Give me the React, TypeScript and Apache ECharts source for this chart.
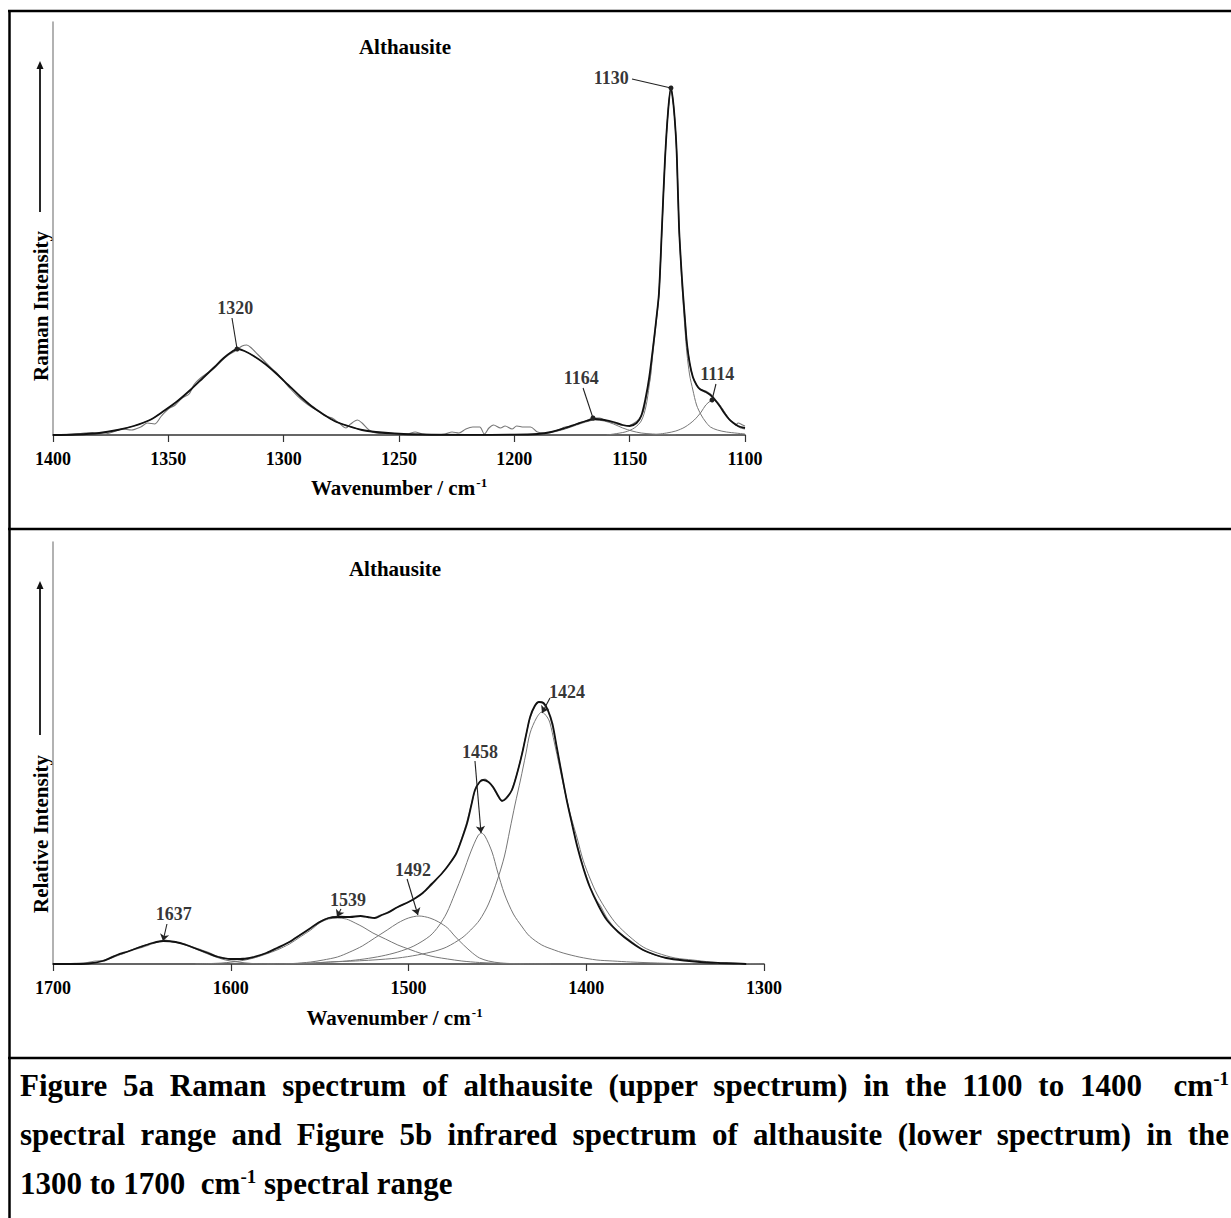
import React, { useEffect, useRef } from "react";
import * as echarts from "echarts";

const SERIF = "'Liberation Serif', 'Times New Roman', serif";

// ---------- Figure 5a : Raman (1100-1400 cm-1) ----------
const ramanRange = { min: 1100, max: 1400, step: 50 };
const ramanTitle = "Althausite";
const ramanYName = "Raman Intensity";

const ramanRaw: number[][] = [
  [1400, 0], [1394, 0.5], [1388, 1.5], [1383, 2.5], [1378, 1], [1374, 3], [1370, 6], [1366, 5], [1362, 8], [1359, 12],
  [1356, 11], [1353, 19], [1350, 26], [1347, 30], [1344, 37], [1341, 41], [1339, 50], [1336, 57], [1333, 62], [1330, 67],
  [1327, 74], [1324, 80], [1321, 84], [1318, 89], [1316, 90], [1314, 87], [1311, 80], [1308, 73], [1305, 66], [1303, 62],
  [1300, 54], [1297, 46], [1294, 39], [1291, 33], [1288, 28], [1285, 24], [1282, 19], [1279, 17], [1276, 12], [1273, 7],
  [1271, 11], [1268, 15], [1266, 12], [1263, 5], [1260, 2], [1255, 1], [1250, 0], [1246, 1], [1243, 3], [1240, 1],
  [1235, 0], [1230, 1], [1227, 3], [1224, 2], [1221, 6], [1218, 8], [1215, 8], [1213, 1], [1211, 7], [1209, 10],
  [1206, 7], [1204, 9], [1201, 6], [1199, 9], [1196, 8], [1193, 8], [1190, 3], [1187, 2], [1184, 3], [1181, 5],
  [1178, 8], [1175, 9], [1172, 12], [1169, 14], [1166, 17], [1163, 17], [1160, 14], [1157, 12], [1154, 10], [1151, 9],
  [1148, 12], [1146, 16], [1144, 24], [1142.5, 42], [1141, 58], [1140, 85], [1138.5, 115], [1137.3, 142], [1136, 208],
  [1134.7, 275], [1133.3, 325], [1132.1, 345], [1131, 330], [1130, 300], [1129.5, 275], [1128.6, 208], [1127.7, 170],
  [1126.9, 142], [1126, 115], [1125.2, 92], [1124, 72], [1122.6, 58], [1121, 50], [1119.6, 46], [1117, 44], [1115, 41],
  [1113, 36], [1111, 30], [1109, 23], [1107, 16], [1105, 12], [1104, 10], [1103, 12], [1101, 10], [1100, 9],
];

const ramanFit: number[][] = [
  [1400, 0], [1390, 0.5], [1380, 2], [1372, 5], [1365, 9], [1358, 15], [1352, 24], [1346, 34], [1340, 46], [1335, 57],
  [1330, 68], [1326, 77], [1322, 84], [1320, 86], [1317, 84], [1313, 79], [1308, 71], [1303, 61], [1298, 50], [1293, 39],
  [1288, 29], [1283, 21], [1278, 14], [1272, 9], [1266, 5], [1260, 3], [1252, 1.5], [1240, 0.5], [1220, 0.2], [1200, 0.3],
  [1190, 1], [1184, 3], [1178, 7], [1173, 11], [1169, 14], [1165, 16], [1161, 15], [1157, 13], [1153, 10], [1150, 9],
  [1147, 12], [1145, 19], [1143, 38], [1141.5, 58], [1140, 85], [1138.5, 115], [1137.3, 142], [1136, 208], [1134.7, 275],
  [1133.3, 325], [1132.1, 347], [1131, 330], [1130, 300], [1129.5, 275], [1128.6, 208], [1127.7, 170], [1126.9, 142],
  [1126, 115], [1125.2, 92], [1124, 72], [1122.6, 58], [1121, 50], [1119.6, 46], [1117, 43], [1115, 40], [1113, 35],
  [1111, 29], [1109, 22], [1107, 16], [1105, 12], [1103, 9], [1100, 7],
];

const ramanBand1320: number[][] = [
  [1400, 0], [1390, 0.5], [1380, 2], [1372, 5], [1365, 9], [1358, 15], [1352, 24], [1346, 34], [1340, 46], [1335, 57],
  [1330, 68], [1326, 77], [1322, 84], [1320, 86], [1317, 84], [1313, 79], [1308, 71], [1303, 61], [1298, 50], [1293, 39],
  [1288, 29], [1283, 21], [1278, 14], [1272, 9], [1266, 5], [1260, 3], [1252, 1.5], [1240, 0.5], [1220, 0],
];
const ramanBand1164: number[][] = [
  [1200, 0], [1190, 0.5], [1184, 2.5], [1178, 6], [1173, 10], [1169, 13], [1165, 15], [1161, 14], [1157, 11], [1153, 7],
  [1149, 4], [1145, 2], [1140, 1], [1130, 0],
];
const ramanBand1130: number[][] = [
  [1160, 0], [1152, 3], [1148, 7], [1145, 14], [1143, 28], [1141.5, 50], [1140, 80], [1138.5, 112], [1137.3, 140],
  [1136, 205], [1134.7, 273], [1133.3, 325], [1132.1, 347], [1131, 330], [1130, 300], [1129.5, 275], [1128.6, 208],
  [1127.7, 165], [1126.9, 135], [1126, 105], [1125.2, 82], [1124, 60], [1122.6, 45], [1121, 30], [1119, 20], [1117, 13],
  [1115, 8], [1112, 5], [1108, 3], [1100, 1],
];
const ramanBand1114: number[][] = [
  [1140, 0], [1134, 2], [1130, 4], [1126, 8], [1122, 15], [1119, 23], [1117, 30], [1115, 34], [1114, 35], [1112, 33],
  [1110, 27], [1108, 20], [1106, 14], [1104, 10], [1102, 7], [1100, 6],
];

// peak annotations: label anchor, leader start, leader end (data coords)
const ramanPeaks = [
  { name: "1130", text: [1158, 357], from: [1149, 356], to: [1132.1, 347] },
  { name: "1320", text: [1321, 127], from: [1322.4, 117], to: [1320.2, 86] },
  { name: "1164", text: [1171, 57], from: [1170.2, 47], to: [1165.9, 17] },
  { name: "1114", text: [1112, 61], from: [1112.6, 51], to: [1114.3, 35] },
];

// ---------- Figure 5b : infrared (1300-1700 cm-1) ----------
const irRange = { min: 1300, max: 1700, step: 100 };
const irTitle = "Althausite";
const irYName = "Relative Intensity";

const irRaw: number[][] = [
  [1700, 0], [1690, 0.5], [1682, 1], [1676, 3], [1671, 4], [1666, 8], [1661, 10], [1656, 14], [1651, 16], [1646, 19],
  [1641, 22], [1637, 24], [1633, 22], [1628, 21], [1623, 18], [1618, 15], [1613, 12], [1608, 8], [1603, 6], [1598, 4],
  [1593, 6], [1588, 6], [1583, 9], [1578, 12], [1573, 16], [1568, 21], [1563, 27], [1558, 32], [1553, 39], [1548, 44],
  [1543, 47], [1538, 48], [1533, 47], [1528, 48], [1524, 47], [1520, 46], [1517, 48], [1514, 50], [1510, 53], [1506, 57],
  [1501, 61], [1497, 65], [1492, 71], [1487, 79], [1482, 89], [1478, 98], [1474, 108], [1471, 121], [1468, 137],
  [1465, 157], [1462.6, 173], [1460, 182], [1457, 185], [1454, 180], [1451, 172], [1448, 164], [1446, 164], [1443, 170],
  [1440, 184], [1437, 204], [1434, 228], [1431.6, 246], [1429, 257], [1426.6, 262], [1424, 260], [1421.6, 253],
  [1419, 238], [1416.6, 216], [1414, 192], [1411, 165], [1408, 140], [1405, 118], [1401.5, 96], [1398, 78], [1396, 70],
  [1394, 63], [1392, 58], [1388, 45], [1382, 32], [1375, 23], [1368, 14], [1361, 9], [1355, 6], [1345, 4], [1336, 2],
  [1325, 1], [1317, 0], [1310, 0],
];

const irFit: number[][] = [
  [1700, 0], [1690, 0], [1680, 0.5], [1672, 3], [1664, 9], [1657, 13], [1651, 17], [1644, 21], [1638, 23], [1631, 22],
  [1625, 19], [1619, 15], [1613, 11], [1607, 7], [1600, 5], [1593, 5], [1587, 7], [1580, 11], [1574, 16], [1567, 22],
  [1561, 29], [1555, 36], [1550, 42], [1545, 46], [1540, 47], [1533, 47], [1527, 48], [1523, 47], [1519, 46], [1515, 49],
  [1512, 51], [1506, 57], [1500, 62], [1496, 66], [1492, 71], [1487, 80], [1481, 91], [1477, 100], [1473, 111],
  [1470, 125], [1467, 141], [1464.5, 160], [1462.6, 174], [1460, 182], [1458, 184], [1455, 182], [1452.4, 177],
  [1449.5, 168], [1447.4, 163], [1445, 166], [1441.8, 174], [1439, 190], [1436, 211], [1433.5, 232], [1431.6, 247],
  [1429, 258], [1426.6, 262], [1424, 261], [1421.6, 254], [1419, 240], [1416.6, 217], [1414, 192], [1411, 164],
  [1408, 140], [1405, 117], [1401.5, 95], [1398, 77], [1393, 58], [1388.4, 44], [1382, 32], [1375, 22], [1368, 14],
  [1361, 9], [1355, 6], [1345, 3.5], [1336, 2], [1325, 1], [1317, 0.5], [1310, 0],
];

const irBand1637: number[][] = [
  [1700, 0], [1685, 0.5], [1675, 2], [1667, 6], [1660, 11], [1653, 16], [1646, 20], [1638, 23], [1631, 22], [1624, 18],
  [1617, 13], [1610, 8], [1603, 4], [1596, 2], [1588, 0.5], [1575, 0],
];
const irBand1539: number[][] = [
  [1620, 0], [1605, 1], [1595, 3], [1587, 6], [1580, 10], [1574, 14], [1567, 20], [1561, 27], [1555, 34], [1550, 41],
  [1545, 45], [1540, 46], [1535, 45], [1530, 41], [1525.6, 37], [1520, 31], [1513, 25], [1506, 19], [1500, 15],
  [1492, 10], [1485, 7], [1478, 5], [1470, 3], [1460, 1.5], [1445, 0.5], [1420, 0],
];
const irBand1492: number[][] = [
  [1580, 0], [1565, 0.5], [1555, 2], [1548, 4], [1540, 7], [1533, 12], [1526, 18], [1519, 26], [1512, 34], [1506, 41],
  [1500, 46], [1494, 48], [1488, 46], [1483, 42], [1478, 36], [1474, 28], [1469, 19], [1464, 11], [1460, 6], [1455, 3],
  [1448, 1], [1435, 0],
];
const irBand1458: number[][] = [
  [1570, 0], [1555, 1], [1544, 2], [1535, 3], [1525, 5], [1515, 8], [1506, 12], [1497, 18], [1488, 28], [1483, 38],
  [1478.5, 51], [1474, 70], [1469.3, 91], [1465, 112], [1461, 128], [1459, 131], [1457, 128], [1453, 112], [1450, 93],
  [1446, 70], [1441, 50], [1436, 37], [1432, 28], [1425, 19], [1418, 14], [1413, 11], [1404, 7], [1394, 4], [1385, 3],
  [1375, 2], [1360, 1], [1340, 0],
];
const irBand1424: number[][] = [
  [1560, 0], [1544, 2], [1530, 3], [1520, 4], [1506, 6], [1495, 9], [1485, 13], [1478.5, 17], [1470, 26], [1465, 34],
  [1460, 44], [1455, 60], [1450, 84], [1446, 108], [1443, 134], [1440, 160], [1437, 184], [1434, 210], [1431.6, 231],
  [1428, 246], [1425, 252], [1422, 247], [1420.4, 241], [1418, 222], [1415, 197], [1412, 172], [1409, 150], [1405, 125],
  [1401.8, 104], [1398, 86], [1394, 70], [1388, 52], [1383, 40], [1376, 28], [1368, 17], [1360, 11], [1350, 6],
  [1340, 4], [1330, 2], [1320, 1], [1310, 0.5], [1300, 0],
];

const irPeaks = [
  { name: "1637", text: [1632, 50], from: [1635.9, 40], to: [1638.1, 23] },
  { name: "1539", text: [1534, 64], from: [1538, 55], to: [1540.2, 47] },
  { name: "1492", text: [1497.5, 94], from: [1500.8, 85], to: [1494.7, 49] },
  { name: "1458", text: [1459.8, 212], from: [1462.6, 203], to: [1459.2, 131] },
  { name: "1424", text: [1410.8, 272], from: [1420.4, 266], to: [1424.9, 251] },
];

const xName = "{a|Wavenumber / cm}{s|-1}";

const captionLines = [
  "Figure 5a Raman spectrum of althausite (upper spectrum) in the 1100 to 1400\u00a0 cm",
  "spectral range and Figure 5b infrared spectrum of althausite (lower spectrum) in the",
  "1300 to 1700\u00a0 cm",
];

function buildOption() {
  const curve = (data: number[][], idx: number, color: string, width: number, z: number) => ({
    type: "line",
    xAxisIndex: idx,
    yAxisIndex: idx,
    data,
    showSymbol: false,
    symbol: "none",
    smooth: 0.3,
    silent: true,
    lineStyle: { color, width },
    z,
  });

  const peakSeries = (peaks: any[], idx: number, endSymbol: string, endSize: number) => ({
    type: "scatter",
    xAxisIndex: idx,
    yAxisIndex: idx,
    symbolSize: 0,
    silent: true,
    z: 10,
    data: peaks.map((p) => ({ name: p.name, value: p.text })),
    label: {
      show: true,
      position: "inside",
      formatter: "{b}",
      fontFamily: SERIF,
      fontWeight: "bold",
      fontSize: 18,
      color: "#000",
    },
    markLine: {
      silent: true,
      symbol: ["none", endSymbol],
      symbolSize: endSize,
      label: { show: false },
      lineStyle: { color: "#222", width: 1.1, type: "solid" },
      data: peaks.map((p) => [{ coord: p.from }, { coord: p.to }]),
    },
  });

  const xAxis = (idx: number, r: { min: number; max: number; step: number }, gap: number, pad: number[]) => ({
    gridIndex: idx,
    type: "value",
    inverse: true,
    min: r.min,
    max: r.max,
    interval: r.step,
    axisLine: { show: true, lineStyle: { color: "#333", width: 1.6 } },
    axisTick: { show: true, length: 7, lineStyle: { color: "#333", width: 1.2 } },
    axisLabel: {
      fontFamily: SERIF,
      fontWeight: "bold",
      fontSize: 18,
      color: "#000",
      margin: 15,
      formatter: (v: number) => String(v),
    },
    splitLine: { show: false },
    name: xName,
    nameLocation: "middle",
    nameGap: gap,
    nameTextStyle: {
      padding: pad,
      rich: {
        a: { fontFamily: SERIF, fontWeight: "bold", fontSize: 21, color: "#000", lineHeight: 24 },
        s: { fontFamily: SERIF, fontWeight: "bold", fontSize: 13, color: "#000", lineHeight: 24, verticalAlign: "top", padding: [0, 0, 8, 1] },
      },
    },
  });

  const yAxis = (idx: number, max: number) => ({
    gridIndex: idx,
    type: "value",
    min: 0,
    max,
    axisLine: { show: true, onZero: false, lineStyle: { color: "#999", width: 1.5 } },
    axisTick: { show: false },
    axisLabel: { show: false },
    splitLine: { show: false },
  });

  const border = (x1: number, y1: number, x2: number, y2: number) => ({
    type: "line",
    shape: { x1, y1, x2, y2 },
    style: { stroke: "#000", lineWidth: 2.5 },
    silent: true,
  });

  const yArrow = (x: number, yTop: number, yBottom: number) => [
    { type: "line", shape: { x1: x, y1: yBottom, x2: x, y2: yTop + 6 }, style: { stroke: "#111", lineWidth: 1.8 }, silent: true },
    { type: "polygon", shape: { points: [[x - 3.5, yTop + 8], [x + 3.5, yTop + 8], [x, yTop]] }, style: { fill: "#111" }, silent: true },
  ];

  const rotText = (text: string, x: number, y: number) => ({
    type: "text",
    x,
    y,
    rotation: Math.PI / 2,
    style: { text, font: `bold 21px ${SERIF}`, fill: "#000", align: "center", verticalAlign: "middle" },
    silent: true,
  });

  const title = (text: string, x: number, y: number) => ({
    type: "text",
    x,
    y,
    style: { text, font: `bold 21px ${SERIF}`, fill: "#000", align: "center", verticalAlign: "middle" },
    silent: true,
  });

  return {
    animation: false,
    backgroundColor: "#fff",
    grid: [
      { left: 53, top: 22, width: 692, height: 413 },
      { left: 53, top: 542, width: 711, height: 422 },
    ],
    xAxis: [xAxis(0, ramanRange, 41, [0, 0, 0, 0]), xAxis(1, irRange, 42, [0, 28, 0, 0])],
    yAxis: [yAxis(0, 413), yAxis(1, 422)],
    series: [
      curve(ramanBand1320, 0, "#777", 1, 2),
      curve(ramanBand1164, 0, "#777", 1, 2),
      curve(ramanBand1130, 0, "#777", 1, 2),
      curve(ramanBand1114, 0, "#777", 1, 2),
      curve(ramanRaw, 0, "#777", 1.1, 3),
      curve(ramanFit, 0, "#111", 1.8, 4),
      peakSeries(ramanPeaks, 0, "circle", 5),
      curve(irBand1637, 1, "#777", 1, 2),
      curve(irBand1539, 1, "#777", 1, 2),
      curve(irBand1492, 1, "#777", 1, 2),
      curve(irBand1458, 1, "#777", 1, 2),
      curve(irBand1424, 1, "#777", 1, 2),
      curve(irRaw, 1, "#888", 1.1, 3),
      curve(irFit, 1, "#111", 1.8, 4),
      peakSeries(irPeaks, 1, "arrow", 7),
    ],
    graphic: [
      border(8, 11, 1231, 11),
      border(9.5, 10, 9.5, 1218),
      border(8, 529, 1231, 529),
      border(8, 1058, 1231, 1058),
      ...yArrow(40, 61, 212),
      ...yArrow(40, 581, 735),
      rotText(ramanYName, 41, 306),
      rotText(irYName, 41, 834),
      title(ramanTitle, 405, 47),
      title(irTitle, 395, 569),
    ],
  };
}

export default function App() {
  const ref = useRef<HTMLDivElement>(null);

  useEffect(() => {
    if (!ref.current) return;
    const chart = echarts.init(ref.current, undefined, { renderer: "svg" });
    chart.setOption(buildOption() as any);
    return () => chart.dispose();
  }, []);

  const sup = { fontSize: 19, verticalAlign: "super", lineHeight: 0 } as React.CSSProperties;

  return (
    <>
      <div ref={ref} style={{ position: "fixed", left: 0, top: 0, width: 1231, height: 1218 }} />
      <div
        style={{
          position: "fixed",
          left: 20,
          top: 1061,
          width: 1209,
          fontFamily: SERIF,
          fontWeight: "bold",
          fontSize: 31,
          lineHeight: "49px",
          color: "#000",
        }}
      >
        <div style={{ textAlign: "justify", textAlignLast: "justify" }}>
          {captionLines[0]}
          <sup style={sup}>-1</sup>
        </div>
        <div style={{ textAlign: "justify", textAlignLast: "justify" }}>{captionLines[1]}</div>
        <div>
          {captionLines[2]}
          <sup style={sup}>-1</sup> spectral range
        </div>
      </div>
    </>
  );
}
